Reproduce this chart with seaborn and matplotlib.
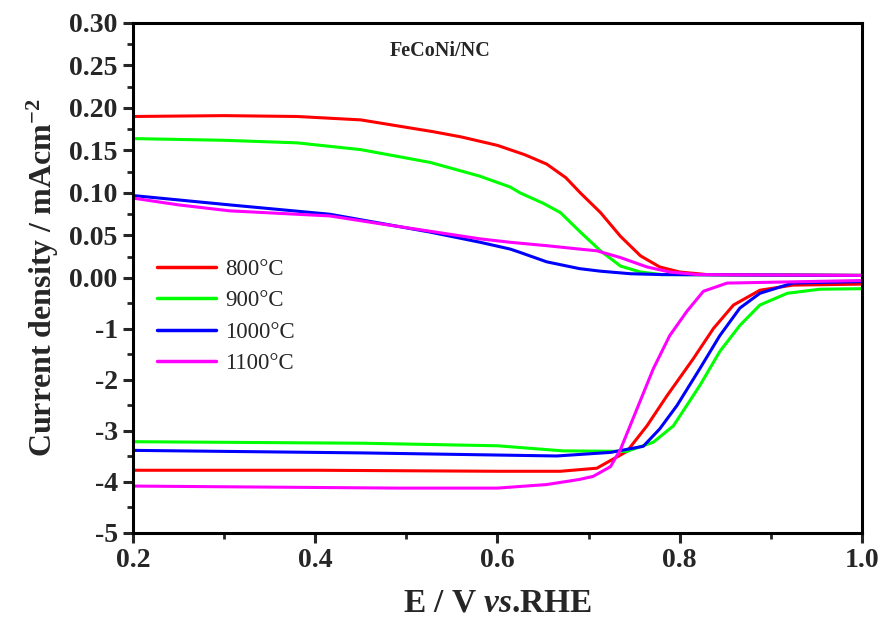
import numpy as np
import pandas as pd
import matplotlib
matplotlib.use("Agg")
import matplotlib.pyplot as plt
import seaborn as sns
from matplotlib.ticker import FixedLocator, FixedFormatter

# --------------------------
# Data
# --------------------------
# upper branch (ring current, small positive values)
e_800_top = [0.20, 0.30, 0.38, 0.45, 0.49, 0.53, 0.56, 0.60, 0.63, 0.654, 0.675, 0.691, 0.713, 0.735, 0.757, 0.778, 0.80, 0.83, 1.00]
j_800_top = [0.190, 0.191, 0.190, 0.186, 0.179, 0.172, 0.166, 0.156, 0.145, 0.134, 0.118, 0.100, 0.077, 0.049, 0.026, 0.013, 0.007, 0.004, 0.003]

e_900_top = [0.20, 0.30, 0.38, 0.45, 0.526, 0.58, 0.614, 0.625, 0.65, 0.669, 0.691, 0.713, 0.735, 0.757, 0.78, 1.00]
j_900_top = [0.164, 0.162, 0.159, 0.151, 0.136, 0.120, 0.107, 0.100, 0.088, 0.077, 0.054, 0.032, 0.014, 0.007, 0.004, 0.003]

e_1000_top = [0.20, 0.306, 0.416, 0.526, 0.581, 0.614, 0.625, 0.654, 0.69, 0.713, 0.746, 0.78, 1.00]
j_1000_top = [0.097, 0.086, 0.075, 0.054, 0.042, 0.034, 0.030, 0.019, 0.011, 0.008, 0.005, 0.004, 0.003]

e_1100_top = [0.20, 0.25, 0.306, 0.416, 0.47, 0.526, 0.581, 0.614, 0.654, 0.69, 0.709, 0.735, 0.764, 0.789, 0.82, 1.00]
j_1100_top = [0.094, 0.086, 0.079, 0.073, 0.064, 0.055, 0.046, 0.042, 0.038, 0.034, 0.032, 0.024, 0.013, 0.007, 0.004, 0.003]

# lower branch (disk current)
e_800_bot = [0.20, 0.40, 0.60, 0.669, 0.709, 0.742, 0.764, 0.786, 0.815, 0.837, 0.859, 0.888, 0.924, 1.00]
j_800_bot = [-3.77, -3.77, -3.79, -3.79, -3.73, -3.40, -2.90, -2.31, -1.58, -0.99, -0.53, -0.24, -0.14, -0.12]

e_900_bot = [0.20, 0.452, 0.60, 0.672, 0.742, 0.771, 0.793, 0.822, 0.844, 0.866, 0.888, 0.918, 0.954, 1.00]
j_900_bot = [-3.21, -3.24, -3.29, -3.39, -3.40, -3.22, -2.90, -2.11, -1.44, -0.93, -0.53, -0.30, -0.22, -0.21]

e_1000_bot = [0.20, 0.452, 0.665, 0.724, 0.76, 0.778, 0.797, 0.822, 0.844, 0.866, 0.888, 0.924, 1.00]
j_1000_bot = [-3.38, -3.43, -3.49, -3.42, -3.30, -2.96, -2.50, -1.78, -1.13, -0.59, -0.30, -0.10, -0.07]

e_1100_bot = [0.20, 0.49, 0.60, 0.654, 0.69, 0.705, 0.724, 0.735, 0.753, 0.771, 0.789, 0.808, 0.826, 0.852, 1.00]
j_1100_bot = [-4.08, -4.12, -4.12, -4.05, -3.95, -3.89, -3.70, -3.36, -2.57, -1.78, -1.13, -0.65, -0.26, -0.10, -0.05]

temps = ["800\u00b0C", "900\u00b0C", "1000\u00b0C", "1100\u00b0C"]
colors = ["#FF0000", "#00FF00", "#0000FF", "#FF00FF"]

ytick_vals = [-5, -4, -3, -2, -1, 0.0, 0.05, 0.10, 0.15, 0.20, 0.25, 0.30]
ytick_labels = ["-5", "-4", "-3", "-2", "-1", "0.00", "0.05", "0.10", "0.15", "0.20", "0.25", "0.30"]
xtick_vals = [0.2, 0.4, 0.6, 0.8, 1.0]

# --------------------------
# Long-form table
# --------------------------
series = [
    (temps[0], "top", e_800_top, j_800_top), (temps[0], "bot", e_800_bot, j_800_bot),
    (temps[1], "top", e_900_top, j_900_top), (temps[1], "bot", e_900_bot, j_900_bot),
    (temps[2], "top", e_1000_top, j_1000_top), (temps[2], "bot", e_1000_bot, j_1000_bot),
    (temps[3], "top", e_1100_top, j_1100_top), (temps[3], "bot", e_1100_bot, j_1100_bot),
]
frames = []
for t, b, e, j in series:
    frames.append(pd.DataFrame({"E": e, "j": j, "temp": t, "branch": b}))
df = pd.concat(frames, ignore_index=True)

# --------------------------
# Style
# --------------------------
sns.set_style("ticks")
plt.rcParams["font.family"] = ["Liberation Serif", "DejaVu Serif"]
plt.rcParams["mathtext.fontset"] = "custom"
plt.rcParams["mathtext.rm"] = "Liberation Serif:bold"
plt.rcParams["mathtext.bf"] = "Liberation Serif:bold"
plt.rcParams["mathtext.it"] = "Liberation Serif:italic:bold"
plt.rcParams["mathtext.default"] = "rm"


# y axis: 0..0.30 on upper half, -5..0 on lower half
def fwd(y):
    y = np.asarray(y, dtype=float)
    return np.where(y >= 0, y / 0.30, y / 5.0)


def inv(y):
    y = np.asarray(y, dtype=float)
    return np.where(y >= 0, y * 0.30, y * 5.0)


fig = plt.figure(figsize=(8.83, 6.28), dpi=100)
ax = fig.add_axes([0.1506, 0.1513, 0.8256, 0.8121])

sns.lineplot(data=df, x="E", y="j", hue="temp", units="branch", estimator=None,
             palette=colors, hue_order=temps, linewidth=2.2, sort=False, ax=ax)

ax.set_yscale("function", functions=(fwd, inv))
ax.set_ylim(-5, 0.30)
ax.set_xlim(0.2, 1.0)

ax.yaxis.set_major_locator(FixedLocator(ytick_vals))
ax.yaxis.set_major_formatter(FixedFormatter(ytick_labels))
ax.yaxis.set_minor_locator(FixedLocator([-4.5, -3.5, -2.5, -1.5, -0.5, 0.025, 0.075, 0.125, 0.175, 0.225, 0.275]))
ax.xaxis.set_major_locator(FixedLocator(xtick_vals))
ax.xaxis.set_minor_locator(FixedLocator([0.3, 0.5, 0.7, 0.9]))

for sp in ax.spines.values():
    sp.set_visible(True)
    sp.set_linewidth(2.2)
    sp.set_color("black")

ax.tick_params(which="major", direction="out", length=7, width=2.2, labelsize=20, pad=4)
ax.tick_params(which="minor", direction="out", length=4, width=2.0)
for lab in ax.get_xticklabels() + ax.get_yticklabels():
    lab.set_fontweight("bold")

ax.set_xlabel(r"E / V $\mathit{vs}$.RHE", fontsize=24, fontweight="bold", labelpad=10)
ax.set_ylabel(r"Current density / mAcm$^{-2}$", fontsize=23, fontweight="bold", labelpad=6)

ax.text(0.421, 0.945, "FeCoNi/NC", transform=ax.transAxes, ha="center", va="center",
        fontsize=14.5, fontweight="bold")

leg = ax.legend(loc="upper left", bbox_to_anchor=(0.02, 0.555), frameon=False,
                fontsize=16.5, handlelength=2.6, handletextpad=0.4, labelspacing=0.45,
                borderaxespad=0)
for line in leg.get_lines():
    line.set_linewidth(2.5)

fig.savefig("out.png", dpi=100)
